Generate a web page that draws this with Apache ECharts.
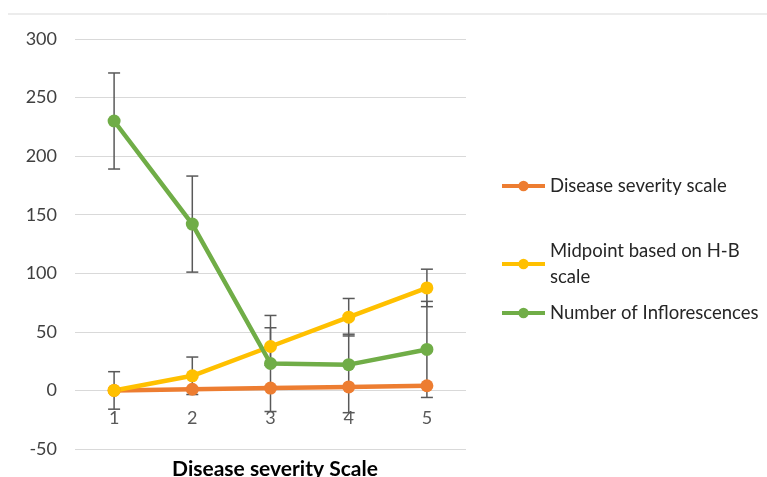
<!DOCTYPE html>
<html>
<head>
<meta charset="utf-8">
<script src="https://cdn.jsdelivr.net/npm/echarts@6/dist/echarts.min.js"></script>
<style>
  html, body { margin: 0; padding: 0; background: #fff; }
  #chart { width: 767px; height: 477px; }
</style>
</head>
<body>
<div id="chart"></div>
<script>
// categories on x axis
const categories = ['1', '2', '3', '4', '5']
// series values
const severity = [0, 1, 2, 3, 4]
const midpoint = [0, 12.5, 37.5, 62.5, 87.5]
const inflorescences = [230, 142, 23, 22, 35]
// error bar ends (low / high)
const severityLow = [-0.7, 0.3, 1.3, 2.3, 3.3]
const severityHigh = [0.7, 1.7, 2.7, 3.7, 4.7]
const midpointLow = [-16, -3.5, 21.5, 46.5, 71.5]
const midpointHigh = [16, 28.5, 53.5, 78.5, 103.5]
const inflLow = [189, 101, -18, -19, -6]
const inflHigh = [271, 183, 64, 48, 76]

const names = ['Disease severity scale', 'Midpoint based on H-B\nscale', 'Number of Inflorescences']
const colors = ['#ED7D31', '#FFC000', '#70AD47']
const font = 'Lato, "Liberation Sans", sans-serif'

// build error bar data [index, low, high]
function errData (low, high) {
  return low.map((v, i) => [i, v, high[i]])
}
const errorData = errData(severityLow, severityHigh)
  .concat(errData(midpointLow, midpointHigh))
  .concat(errData(inflLow, inflHigh))

function renderError (params, api) {
  const x = api.value(0)
  const lo = api.coord([x, api.value(1)])
  const hi = api.coord([x, api.value(2)])
  const half = 6
  const style = { stroke: '#595959', lineWidth: 1.5 }
  return {
    type: 'group',
    children: [
      { type: 'line', shape: { x1: lo[0], y1: lo[1], x2: hi[0], y2: hi[1] }, style: style },
      { type: 'line', shape: { x1: lo[0] - half, y1: lo[1], x2: lo[0] + half, y2: lo[1] }, style: style },
      { type: 'line', shape: { x1: hi[0] - half, y1: hi[1], x2: hi[0] + half, y2: hi[1] }, style: style }
    ]
  }
}

function lineSeries (name, data, color) {
  return {
    name: name,
    type: 'line',
    data: data,
    symbol: 'circle',
    symbolSize: 13,
    z: 3,
    lineStyle: { width: 4.5, color: color },
    itemStyle: { color: color }
  }
}

// one legend per item so the gaps can follow the picture
function legendAt (name, top) {
  return {
    left: 495,
    top: top,
    data: [name],
    itemWidth: 43,
    itemHeight: 13,
    lineStyle: { width: 4 },
    textStyle: { fontFamily: font, fontSize: 18.5, color: '#262626', lineHeight: 26 }
  }
}

const chart = echarts.init(document.getElementById('chart'))
const option = {
  backgroundColor: '#fff',
  animation: false,
  grid: { left: 75, right: 301, top: 39, bottom: 28, outerBoundsMode: 'none' },
  title: {
    text: 'Disease severity Scale',
    left: 270,
    top: 454,
    textAlign: 'center',
    textStyle: { fontFamily: font, fontSize: 21, fontWeight: 'bold', color: '#000' }
  },
  legend: [
    legendAt(names[0], 168),
    legendAt(names[1], 233),
    legendAt(names[2], 295)
  ],
  xAxis: {
    type: 'category',
    data: categories,
    boundaryGap: true,
    offset: -58,
    axisLine: { show: false },
    axisTick: { show: false },
    axisLabel: { fontFamily: font, fontSize: 18, color: '#595959', margin: 18 },
    splitLine: { show: false }
  },
  yAxis: {
    type: 'value',
    min: -50,
    max: 300,
    interval: 50,
    axisLine: { show: false },
    axisTick: { show: false },
    axisLabel: { fontFamily: font, fontSize: 18, color: '#404040', margin: 18 },
    splitLine: { lineStyle: { color: '#d9d9d9', width: 1 } }
  },
  graphic: [
    { type: 'line', shape: { x1: 8, y1: 14, x2: 767, y2: 14 }, style: { stroke: '#d9d9d9', lineWidth: 1 } }
  ],
  series: [
    {
      type: 'custom',
      name: 'errors',
      renderItem: renderError,
      data: errorData,
      z: 1,
      silent: true
    },
    lineSeries(names[0], severity, colors[0]),
    lineSeries(names[1], midpoint, colors[1]),
    lineSeries(names[2], inflorescences, colors[2])
  ]
}
chart.setOption(option)
</script>
</body>
</html>
